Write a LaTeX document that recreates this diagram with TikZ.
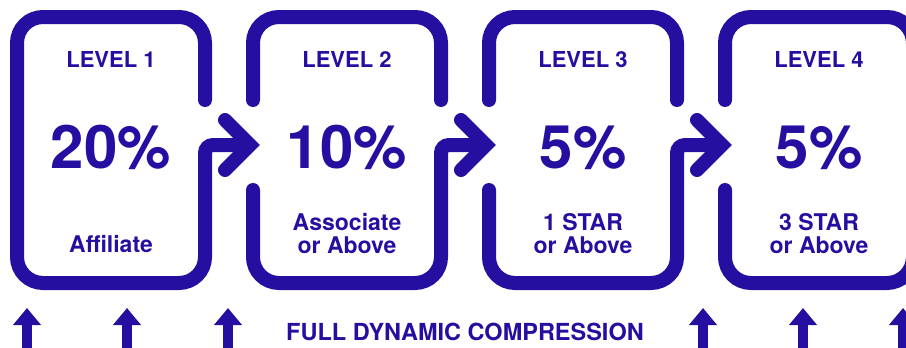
\documentclass[tikz,border=0pt]{standalone}
\usepackage{fontspec}
\setmainfont{TeX Gyre Heros}
\usetikzlibrary{arrows.meta}
\definecolor{indigo}{RGB}{37,15,160}

\begin{document}
\begin{tikzpicture}[x=1pt,y=-1pt,line width=14pt,color=indigo,line cap=round,
    >={Triangle[width=27pt,length=17pt]},
    lvl/.style={anchor=base,font=\bfseries\fontsize{22}{22}\selectfont},
    pct/.style={anchor=base,font=\bfseries\fontsize{60}{60}\selectfont},
    lbl/.style={anchor=base,align=center,font=\bfseries\fontsize{23}{23}\selectfont}]
            \useasboundingbox (0,0) rectangle (906,348);
            % level 1
            \draw[rounded corners=26pt] (205,100) -- (205,17) -- (17,17) -- (17,283) -- (205,283)
                {[rounded corners=8pt] -- (205,145) -- (247,145)};
            \draw[line join=miter] (225,120) -- (250,145) -- (225,170);
            % level 2
            \draw[rounded corners=26pt] (253,100) -- (253,17) -- (441,17) -- (441,100);
            \draw[rounded corners=26pt] (253,190) -- (253,283) -- (441,283)
                {[rounded corners=8pt] -- (441,145) -- (483,145)};
            \draw[line join=miter] (461,120) -- (486,145) -- (461,170);
            % level 3
            \draw[rounded corners=26pt] (489,100) -- (489,17) -- (677,17) -- (677,100);
            \draw[rounded corners=26pt] (489,190) -- (489,283) -- (677,283)
                {[rounded corners=8pt] -- (677,145) -- (719,145)};
            \draw[line join=miter] (697,120) -- (722,145) -- (697,170);
            % level 4
            \draw[rounded corners=26pt] (725,190) -- (725,283) -- (913,283) -- (913,17) -- (725,17) -- (725,100);

            \node[lvl] (lvlA) at (111,67) {LEVEL 1};
            \node[lvl] (lvlB) at (347,67) {LEVEL 2};
            \node[lvl] (lvlC) at (583,67) {LEVEL 3};
            \node[lvl] (lvlD) at (819,67) {LEVEL 4};
            \node[pct] (pctA) at (111,168) {20\%};
            \node[pct] (pctB) at (347,168) {10\%};
            \node[pct] (pctC) at (583,168) {5\%};
            \node[pct] (pctD) at (819,168) {5\%};
            \node[lbl] (lblA) at (111,252) {Affiliate};
            \node[lbl] (lblB) at (347,253) {Associate\\or Above};
            \node[lbl] (lblC) at (583,253) {1 STAR\\or Above};
            \node[lbl] (lblD) at (819,253) {3 STAR\\or Above};

            % compression arrows
            \coordinate (upA) at (27,308);
            \coordinate (upB) at (127,308);
            \coordinate (upC) at (228,308);
            \coordinate (upD) at (703,308);
            \coordinate (upE) at (803,308);
            \coordinate (upF) at (903,308);
            \draw[->,line width=10pt,line cap=butt] (27,350) -- (upA);
            \draw[->,line width=10pt,line cap=butt] (127,350) -- (upB);
            \draw[->,line width=10pt,line cap=butt] (228,350) -- (upC);
            \draw[->,line width=10pt,line cap=butt] (703,350) -- (upD);
            \draw[->,line width=10pt,line cap=butt] (803,350) -- (upE);
            \draw[->,line width=10pt,line cap=butt] (903,350) -- (upF);
            \node[lvl,font=\bfseries\fontsize{23.5}{23.5}\selectfont] (full) at (465,340) {FULL DYNAMIC COMPRESSION};
        \end{tikzpicture}
\end{document}
